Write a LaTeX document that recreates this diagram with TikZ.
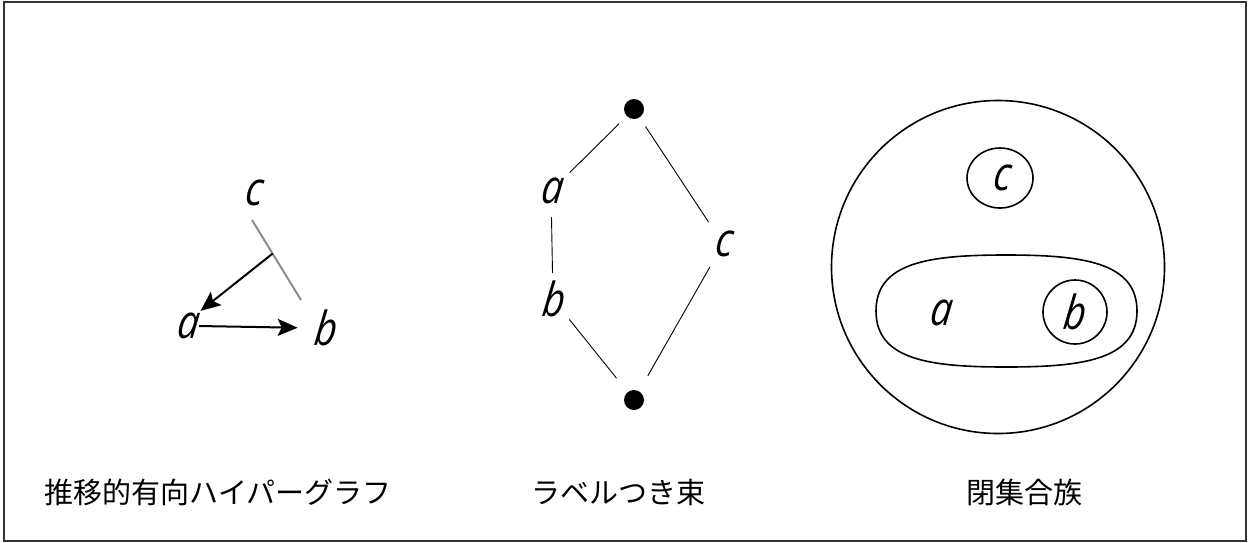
\documentclass[tikz,border=0pt]{standalone}
\usepackage{fontspec}
\usetikzlibrary{arrows.meta,calc,shapes.geometric}
\newfontfamily\cjk{Noto Sans CJK JP}
\newfontfamily\varfont[FakeStretch=0.82, ItalicFeatures={FakeSlant=0.12}]{Open Sans}
\definecolor{edgegray}{HTML}{8C8C8C}
\tikzset{
  var/.style={font=\varfont\itshape\fontsize{47}{47}\selectfont, inner sep=0pt},
  captiontext/.style={font=\cjk\fontsize{29}{29}\selectfont, inner sep=0pt},
  arr/.style={line width=2pt, -{Stealth[length=20pt,width=17pt,inset=4pt]}},
  latline/.style={line width=0.9pt},
  lat/.style={var, circle, minimum size=52pt},
  dot/.style={circle, fill=black, minimum size=20pt, inner sep=0pt},
  setline/.style={line width=1.6pt}
}
\begin{document}
\begin{tikzpicture}[x=1pt,y=-1pt]
\useasboundingbox (0,0) rectangle (1248,542);
\draw[line width=1.5pt, black!80] (4,2) rectangle (1246,541);
% hypergraph
\node[var] (hc) at (253,193) {c};
\node[var] (ha) at (187,326) {a};
\node[var] (hb) at (325,328) {b};
\coordinate (h1) at (252,220);
\coordinate (h2) at (301,300);
\draw[edgegray, line width=2pt] (h1) -- (h2);
\coordinate (hm) at ($(h1)!0.42!(h2)$);
\draw[arr, shorten >=3pt] (hm) -- (ha.north east);
\draw[arr, shorten <=1pt, shorten >=16pt] (ha.east) -- (hb.west);
% lattice
\node[dot, outer sep=11pt] (top) at (634,109) {};
\node[dot, outer sep=18pt] (bot) at (634,400) {};
\node[lat] (la) at (551,191) {a};
\node[lat] (lb) at (553,299) {b};
\node[lat] (lc) at (723,244) {c};
\draw[latline] (top) -- (la);
\draw[latline] (top) -- (lc);
\draw[latline] (la) -- (lb);
\draw[latline] (lb) -- (bot);
\draw[latline] (lc) -- (bot);
% closure system
\node[draw, setline, circle, minimum size=333pt, inner sep=0pt] (big) at (998,267) {};
\draw[setline] (876,311) .. controls (876,262) and (930,255) .. (1006,255)
  .. controls (1082,255) and (1137,262) .. (1137,311)
  .. controls (1137,360) and (1082,367) .. (1006,367)
  .. controls (930,367) and (876,360) .. (876,311) -- cycle;
\node[draw, setline, ellipse, minimum width=66pt, minimum height=60pt, inner sep=0pt] (sc) at (1000,178) {};
\node[var] (cc) at (1001,178) {c};
\node[draw, setline, circle, minimum size=64pt, inner sep=0pt] (sb) at (1075,312) {};
\node[var] (cb) at (1074,312) {b};
\node[var] (ca) at (940,313) {a};
% captions
\node[captiontext] (t1) at (218,492) {推移的有向ハイパーグラフ};
\node[captiontext] (t2) at (618,492) {ラベルつき束};
\node[captiontext] (t3) at (1024,492) {閉集合族};
\end{tikzpicture}
\end{document}
